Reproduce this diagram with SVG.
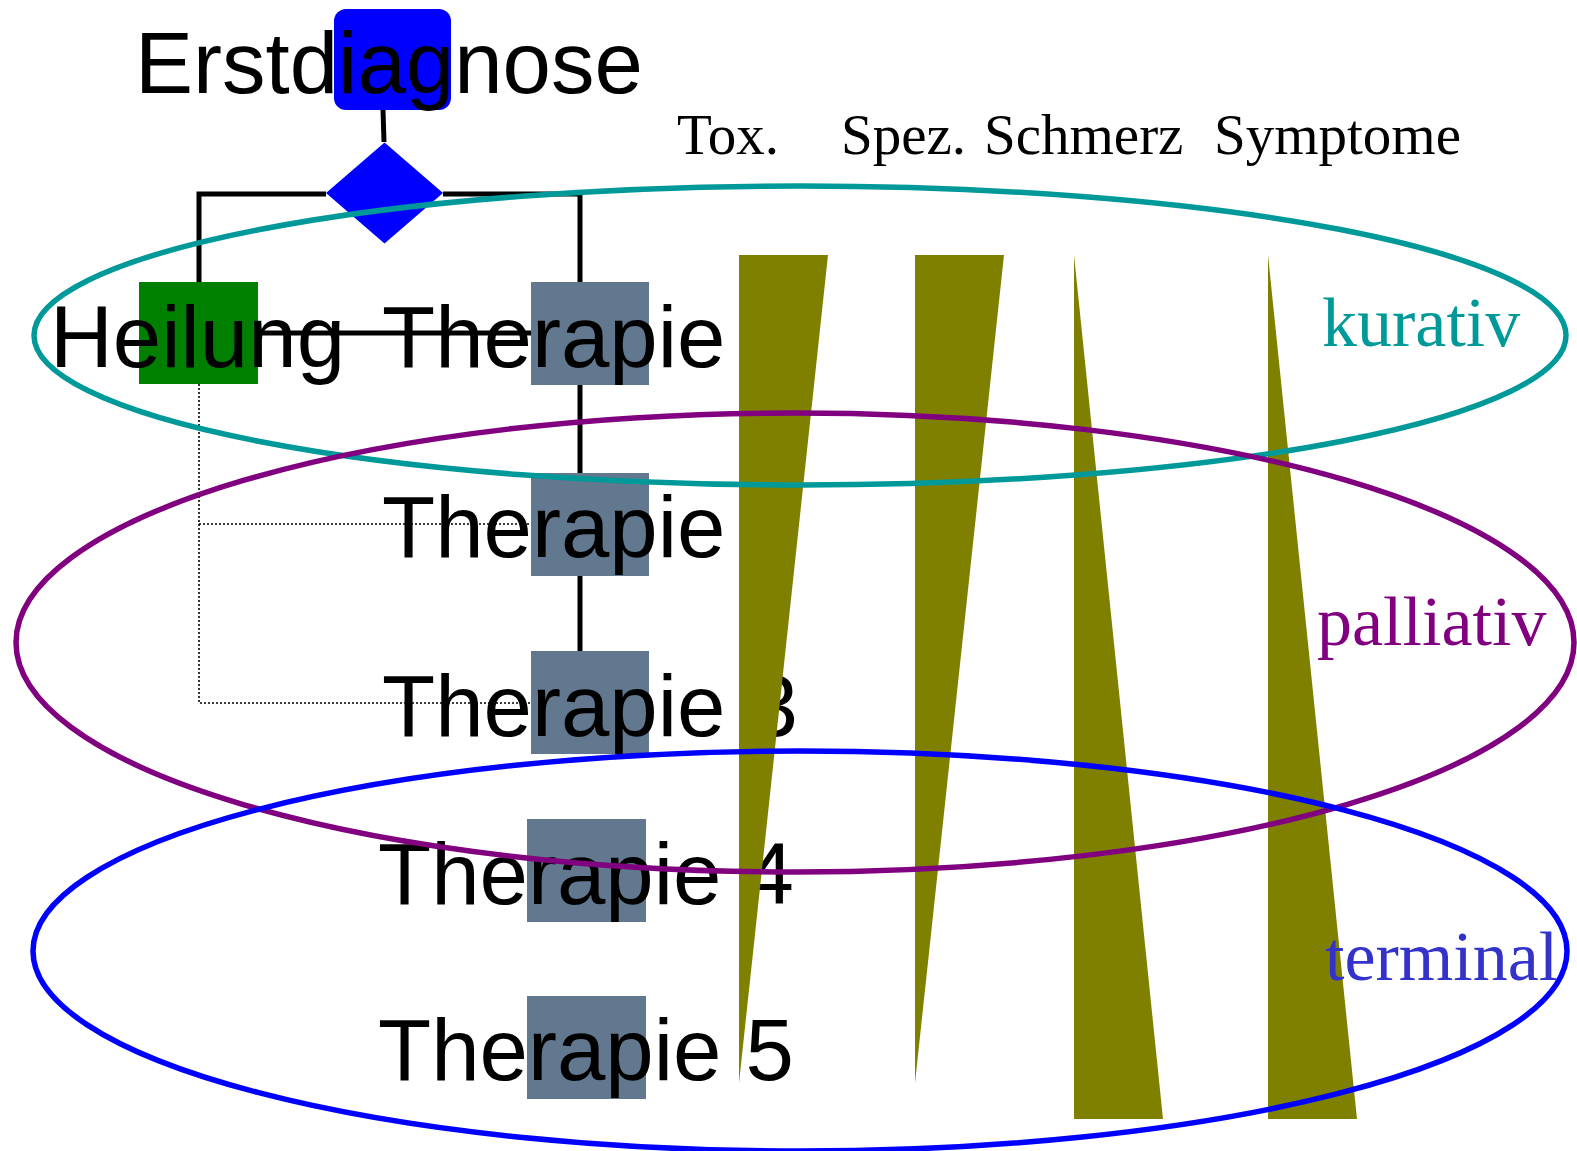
<svg xmlns="http://www.w3.org/2000/svg" width="1577" height="1151" viewBox="0 0 1577 1151">
  <style>
    .big { font-family: "Liberation Sans", Arial, sans-serif; font-size: 87px; fill: #000; }
    .head { font-family: "Liberation Serif", "Times New Roman", serif; font-size: 57px; fill: #000; }
    .phase { font-family: "Liberation Serif", "Times New Roman", serif; font-size: 70px; }
    .conn { stroke: #000; stroke-width: 5; fill: none; }
    .dot { stroke: #000; stroke-width: 1.6; stroke-dasharray: 2 2; fill: none; }
    .ther { fill: #62788f; }
    .tri { fill: #808000; }
    .ring { fill: none; stroke-width: 5.5; }
  </style>
  <rect width="1577" height="1151" fill="#ffffff"/>

  <g id="connectors">
    <path class="conn" d="M383 110 L384 142"/>
    <path class="conn" d="M326 194 H199 V282"/>
    <path class="conn" d="M443 194 H580 V282"/>
    <path class="conn" d="M580 385 V473"/>
    <path class="conn" d="M580 576 V651"/>
    <path class="dot" d="M199 384 V703 H531"/>
    <path class="dot" d="M199 524 H531"/>
  </g>

  <g id="erstdiagnose">
    <rect x="334" y="9" width="117" height="101" rx="12" fill="#0000ff"/>
    <text class="big" x="135" y="93">Erstdiagnose</text>
  </g>

  <g id="entscheidung">
    <polygon points="384.5,142.5 443,193 384.5,243.5 326,193" fill="#0000ff"/>
  </g>

  <g id="heilung">
    <rect x="139" y="282" width="119" height="102" fill="#007f00"/>
    <text class="big" x="50" y="367">Heilung</text>
  </g>

  <g id="therapie1">
    <rect class="ther" x="531" y="282" width="118" height="103"/>
    <text class="big" x="382" y="367">Therapie</text>
  </g>

  <g id="strike">
    <path class="conn" d="M258 333 H531"/>
  </g>

  <g id="therapie2">
    <rect class="ther" x="531" y="473" width="118" height="103"/>
    <text class="big" x="382" y="557">Therapie</text>
  </g>

  <g id="therapie3">
    <rect class="ther" x="531" y="651" width="118" height="103"/>
    <text class="big" x="382" y="736">Therapie 3</text>
  </g>

  <g id="therapie4">
    <rect class="ther" x="527" y="819" width="119" height="103"/>
    <text class="big" x="378" y="904">Therapie 4</text>
  </g>

  <g id="therapie5">
    <rect class="ther" x="527" y="996" width="119" height="103"/>
    <text class="big" x="378" y="1080">Therapie 5</text>
  </g>

  <g id="columns">
    <text class="head" x="677" y="154">Tox.</text>
    <text class="head" x="841" y="154">Spez.</text>
    <text class="head" x="984" y="154">Schmerz</text>
    <text class="head" x="1214" y="154">Symptome</text>
    <polygon class="tri" points="739,255 828,255 739,1083"/>
    <polygon class="tri" points="915,255 1004,255 915,1083"/>
    <polygon class="tri" points="1074,255 1074,1119 1163,1119"/>
    <polygon class="tri" points="1268,255 1268,1119 1357,1119"/>
  </g>

  <g id="kurativ">
    <ellipse class="ring" cx="800" cy="335.5" rx="766" ry="149.5" stroke="#009999"/>
    <text class="phase" x="1322" y="346" fill="#009999">kurativ</text>
  </g>

  <g id="palliativ">
    <ellipse class="ring" cx="795" cy="642.5" rx="779" ry="229.5" stroke="#800080"/>
    <text class="phase" x="1317" y="645" fill="#800080">palliativ</text>
  </g>

  <g id="terminal">
    <ellipse class="ring" cx="800" cy="951" rx="767" ry="200" stroke="#0000ff"/>
    <text class="phase" x="1325" y="980" fill="#3333cc">terminal</text>
  </g>
</svg>
